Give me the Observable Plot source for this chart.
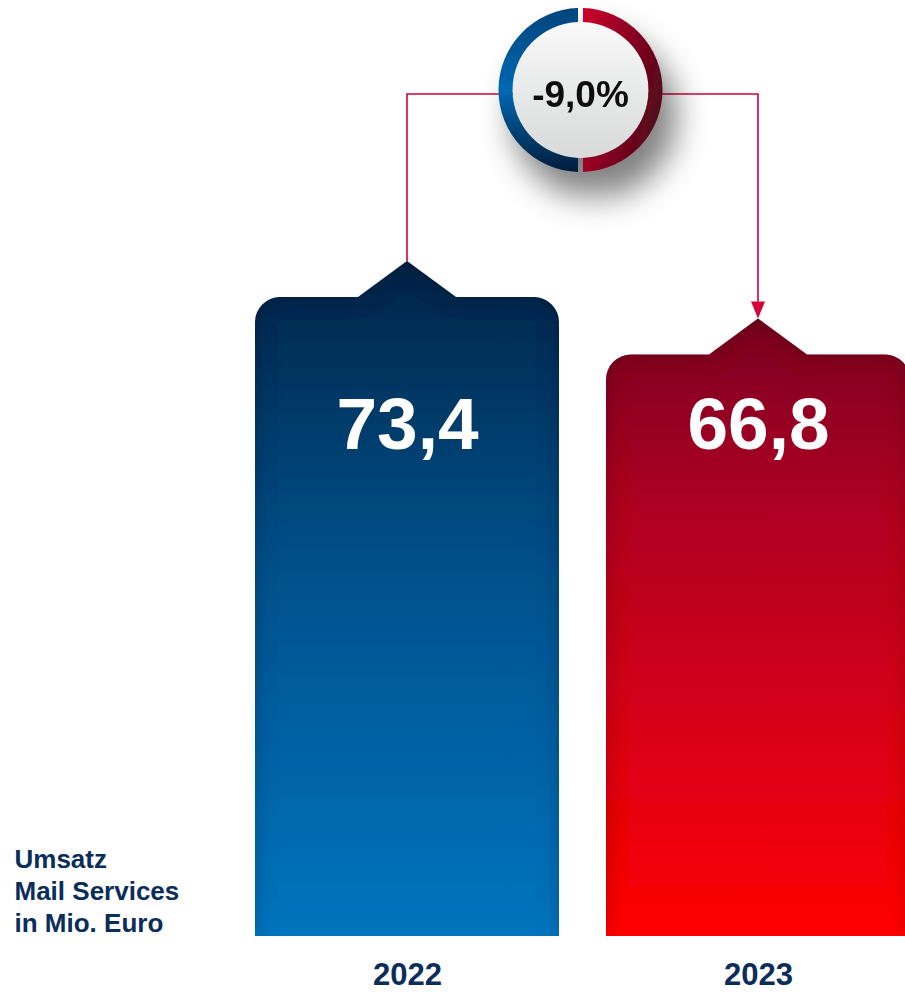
<!DOCTYPE html>
<html><head><meta charset="utf-8">
<script src="https://cdn.jsdelivr.net/npm/d3@7"></script>
<script src="https://cdn.jsdelivr.net/npm/@observablehq/plot@0.6"></script>
<style>
html,body{margin:0;padding:0;background:#fff;}
#chart svg{display:block;font-family:"Liberation Sans",Arial,Helvetica,sans-serif;}
</style></head><body><div id="chart"></div>
<script>
// ---- data ----
const years = ["2022", "2023"];
const revenue = [73.4, 66.8];
const sideLabel = "Umsatz\nMail Services\nin Mio. Euro";

const data = years.map((year, i) => ({year, value: revenue[i]}));
const fmt = v => v.toFixed(1).replace(".", ",");
const change = (revenue[1] / revenue[0] - 1) * 100;
const changeLabel = (change < 0 ? "-" : "+") + fmt(Math.abs(change)) + "%";

const gradStops = {
  "2022": [["0%", "#002447"], ["45%", "#00508a"], ["100%", "#0074be"]],
  "2023": [["0%", "#7a0020"], ["30%", "#ad0022"], ["70%", "#dc0018"], ["100%", "#ff0000"]]
};

function notchedBars(index, scales, values, dimensions, context) {
  const {x, y} = scales;
  const bw = x.bandwidth();
  const g = d3.create("svg:g");
  const defs = g.append("defs");
  const f = defs.append("filter").attr("id", "innerShadow")
    .attr("x", "-10%").attr("y", "-10%").attr("width", "120%").attr("height", "110%");
  f.append("feFlood").attr("flood-color", "#000").attr("flood-opacity", 0.45).attr("result", "c");
  f.append("feComposite").attr("in", "c").attr("in2", "SourceAlpha").attr("operator", "out").attr("result", "inv");
  f.append("feGaussianBlur").attr("in", "inv").attr("stdDeviation", 10).attr("result", "blur");
  f.append("feComposite").attr("in", "blur").attr("in2", "SourceAlpha").attr("operator", "in").attr("result", "sh");
  const m = f.append("feMerge");
  m.append("feMergeNode").attr("in", "SourceGraphic");
  m.append("feMergeNode").attr("in", "sh");
  for (const i of index) {
    const d = data[i];
    const lg = defs.append("linearGradient").attr("id", "bar" + d.year)
      .attr("x1", 0).attr("y1", 0).attr("x2", 0).attr("y2", 1);
    for (const [o, c] of gradStops[d.year]) lg.append("stop").attr("offset", o).attr("stop-color", c);
    const x0 = x(d.year), x1 = x0 + bw, cx = x0 + bw / 2;
    const top = y(d.value), bottom = y(0);
    const r = 25, nw = 49, nh = 36;
    const p = `M${x0},${bottom}V${top + r}A${r},${r} 0 0 1 ${x0 + r},${top}H${cx - nw}L${cx},${top - nh}L${cx + nw},${top}H${x1 - r}A${r},${r} 0 0 1 ${x1},${top + r}V${bottom}Z`;
    g.append("path").attr("d", p).attr("fill", `url(#bar${d.year})`).attr("filter", "url(#innerShadow)");
  }
  return g.node();
}

function badge(index, scales, values, dimensions, context) {
  const {x, y} = scales;
  const bw = x.bandwidth();
  const c0 = x(years[0]) + bw / 2, c1 = x(years[1]) + bw / 2;
  const peak0 = y(revenue[0]) - 36, peak1 = y(revenue[1]) - 36;
  const lineY = 94, cx = (c0 + c1) / 2 - 2, cy = 90;
  const R = 82, ri = 68;
  const red = "#d4003a";
  const g = d3.create("svg:g");
  const defs = g.append("defs");
  const sh = defs.append("filter").attr("id", "badgeShadow")
    .attr("x", "-70%").attr("y", "-70%").attr("width", "260%").attr("height", "260%");
  sh.append("feGaussianBlur").attr("in", "SourceAlpha").attr("stdDeviation", 16);
  sh.append("feOffset").attr("dx", 14).attr("dy", 26);
  sh.append("feComponentTransfer").append("feFuncA").attr("type", "linear").attr("slope", 0.5);
  const sm = sh.append("feMerge");
  sm.append("feMergeNode");
  sm.append("feMergeNode").attr("in", "SourceGraphic");
  const gl = defs.append("linearGradient").attr("id", "ringL").attr("x1", 0).attr("y1", 0).attr("x2", 0).attr("y2", 1);
  [["0%", "#00457c"], ["50%", "#0068b1"], ["100%", "#001d3a"]].forEach(([o, c]) => gl.append("stop").attr("offset", o).attr("stop-color", c));
  const gr = defs.append("linearGradient").attr("id", "ringR").attr("x1", 0).attr("y1", 0).attr("x2", 1).attr("y2", 0.5);
  [["0%", "#cf002e"], ["55%", "#8a0022"], ["100%", "#55091a"]].forEach(([o, c]) => gr.append("stop").attr("offset", o).attr("stop-color", c));
  const gd = defs.append("linearGradient").attr("id", "disc").attr("x1", 0).attr("y1", 0).attr("x2", 0).attr("y2", 1);
  [["0%", "#f9f9f9"], ["100%", "#d8dada"]].forEach(([o, c]) => gd.append("stop").attr("offset", o).attr("stop-color", c));

  // connector lines
  g.append("path").attr("d", `M${c0},${peak0}V${lineY}H${c1}V${peak1 - 16}`)
    .attr("fill", "none").attr("stroke", red).attr("stroke-width", 1.6);
  g.append("path").attr("d", `M${c1 - 7},${peak1 - 17}H${c1 + 7}L${c1},${peak1}Z`).attr("fill", red);

  const b = g.append("g").attr("transform", `translate(${cx},${cy})`).attr("filter", "url(#badgeShadow)");
  const arc = d3.arc().innerRadius(ri).outerRadius(R).padRadius(R).padAngle(5 / R);
  b.append("circle").attr("r", ri).attr("fill", "url(#disc)");
  b.append("path").attr("d", arc({startAngle: 0, endAngle: Math.PI})).attr("fill", "url(#ringR)");
  b.append("path").attr("d", arc({startAngle: Math.PI, endAngle: 2 * Math.PI})).attr("fill", "url(#ringL)");
  b.append("text").attr("x", 0).attr("y", 17).attr("text-anchor", "middle")
    .attr("font-size", 37).attr("font-weight", "bold").attr("fill", "#111").text(changeLabel);
  return g.node();
}

const chart = Plot.plot({
  width: 905,
  height: 992,
  marginTop: 0, marginRight: 0, marginLeft: 0, marginBottom: 56,
  style: {fontFamily: "'Liberation Sans', Arial, sans-serif", background: "#fff"},
  x: {type: "band", domain: years, range: [255, 910], paddingInner: 47 / 351, paddingOuter: 0, axis: null, label: null},
  y: {domain: [0, 100], range: [936, 936 - 870.5], axis: null},
  marks: [
    Plot.barY(data, {x: "year", y: "value", render: notchedBars}),
    Plot.text(data, {x: "year", text: d => fmt(d.value), frameAnchor: "top", dy: 448, lineAnchor: "bottom",
      fontSize: 73, fontWeight: "bold", fill: "#fff"}),
    Plot.text([changeLabel], {frameAnchor: "top", render: badge}),
    Plot.axisX({tickSize: 0, tickPadding: 26, fontSize: 31, fontWeight: "bold", color: "#0a2d5a", label: null}),
    Plot.text([sideLabel], {frameAnchor: "bottom-left", dx: 14, dy: -5, lineAnchor: "bottom", lineHeight: 1.23,
      textAnchor: "start", fontSize: 26, fontWeight: "bold", fill: "#0a2d5a"})
  ]
});
document.getElementById("chart").appendChild(chart);
</script>
</body></html>
